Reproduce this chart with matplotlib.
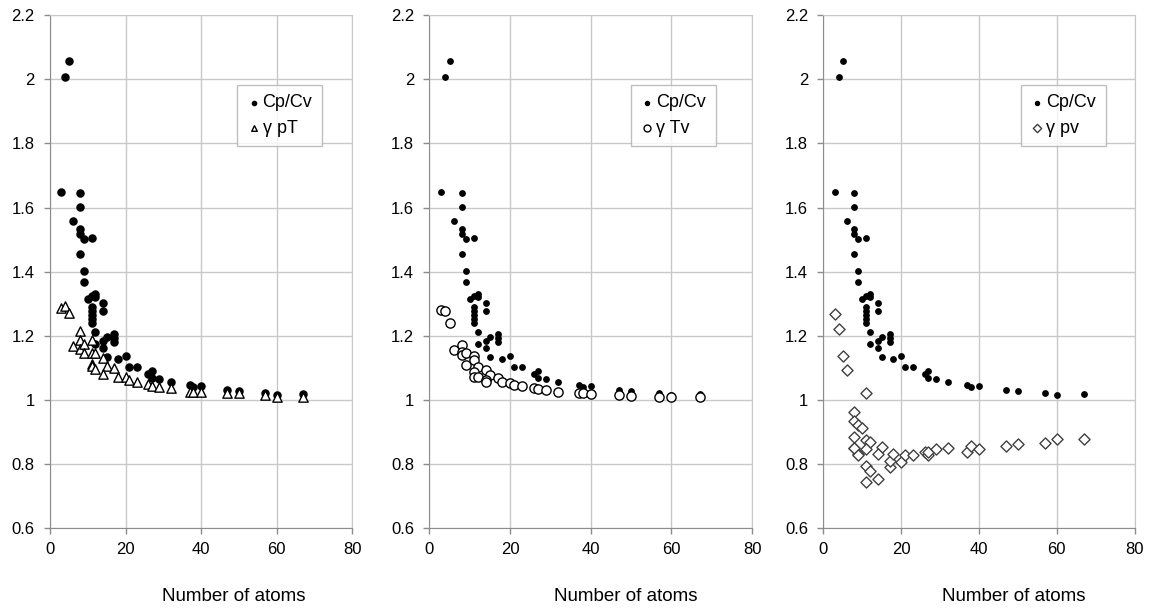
import numpy as np
import matplotlib.pyplot as plt

plt.rcParams['font.family'] = ['Liberation Sans', 'DejaVu Sans']

# heat capacity ratio Cp/Cv against molecule size
atoms_cp = [3, 4, 5, 6, 8, 8, 8, 8, 8, 9, 9, 9, 11, 10, 11, 12, 12, 11, 11, 11,
            11, 11, 14, 14, 12, 12, 14, 14, 15, 17, 17, 17, 15, 18, 20, 21, 23,
            26, 27, 27, 29, 32, 37, 38, 40, 47, 50, 57, 60, 67]
cp_cv = [1.65, 2.006, 2.058, 1.558, 1.644, 1.603, 1.532, 1.517, 1.456, 1.502,
         1.401, 1.367, 1.506, 1.314, 1.325, 1.33, 1.32, 1.29, 1.278, 1.265,
         1.251, 1.239, 1.301, 1.276, 1.212, 1.175, 1.182, 1.162, 1.197, 1.205,
         1.194, 1.181, 1.134, 1.128, 1.136, 1.101, 1.103, 1.082, 1.089, 1.067,
         1.064, 1.056, 1.045, 1.041, 1.044, 1.032, 1.029, 1.022, 1.016, 1.018]

# gamma from (p, T)
atoms_pt = [3, 4, 5, 6, 8, 8, 8, 9, 9, 11, 11, 12, 11, 11, 12, 14, 15, 14, 17,
            18, 20, 21, 23, 26, 27, 29, 32, 37, 38, 40, 47, 50, 57, 60, 67]
gamma_pt = [1.286, 1.293, 1.27, 1.169, 1.215, 1.188, 1.16, 1.174, 1.145, 1.188,
            1.145, 1.145, 1.112, 1.105, 1.095, 1.129, 1.104, 1.08, 1.098, 1.072,
            1.072, 1.061, 1.056, 1.048, 1.042, 1.039, 1.036, 1.025, 1.025, 1.025,
            1.02, 1.02, 1.015, 1.01, 1.01]

# gamma from (T, v)
atoms_tv = [3, 4, 5, 6, 8, 8, 8, 9, 9, 11, 11, 12, 11, 11, 12, 14, 15, 14, 14,
            17, 18, 20, 21, 23, 26, 27, 29, 32, 37, 38, 40, 47, 50, 57, 60, 67]
gamma_tv = [1.28, 1.276, 1.241, 1.155, 1.171, 1.15, 1.14, 1.145, 1.108, 1.138,
            1.123, 1.103, 1.087, 1.07, 1.072, 1.092, 1.077, 1.062, 1.056, 1.068,
            1.056, 1.051, 1.045, 1.044, 1.036, 1.034, 1.031, 1.025, 1.02, 1.02,
            1.019, 1.015, 1.013, 1.01, 1.01, 1.01]

# gamma from (p, v)
atoms_pv = [3, 4, 5, 6, 11, 8, 8, 9, 10, 8, 11, 12, 8, 9, 8, 9, 11, 11, 12, 11,
            14, 15, 14, 17, 17, 18, 20, 21, 23, 26, 27, 27, 29, 32, 37, 38, 40,
            47, 50, 57, 60, 67]
gamma_pv = [1.267, 1.222, 1.137, 1.092, 1.022, 0.963, 0.934, 0.92, 0.913, 0.884,
            0.876, 0.869, 0.85, 0.83, 0.85, 0.827, 0.848, 0.793, 0.778, 0.742,
            0.752, 0.853, 0.83, 0.79, 0.81, 0.832, 0.806, 0.828, 0.828, 0.838,
            0.828, 0.838, 0.845, 0.851, 0.838, 0.855, 0.848, 0.855, 0.862, 0.865,
            0.878, 0.879]


def setup_axes(ax):
    ax.set_xlim(0, 80)
    ax.set_ylim(0.6, 2.2)
    ax.set_xticks([0, 20, 40, 60, 80])
    ax.set_yticks([0.6, 0.8, 1.0, 1.2, 1.4, 1.6, 1.8, 2.0, 2.2])
    ax.set_yticklabels(['0.6', '0.8', '1', '1.2', '1.4', '1.6', '1.8', '2', '2.2'])
    ax.grid(True, color='#c8c8c8', linewidth=1.0)
    ax.set_axisbelow(True)
    for side in ['top', 'right']:
        ax.spines[side].set_color('#c8c8c8')
    for side in ['left', 'bottom']:
        ax.spines[side].set_color('#8c8c8c')
    ax.tick_params(colors='#8c8c8c', labelcolor='black', labelsize=12,
                   length=4, width=1)
    ax.tick_params(axis='x', pad=6)
    ax.tick_params(axis='y', pad=7)
    ax.set_xlabel('Number of atoms', fontsize=13.5)
    ax.xaxis.set_label_coords(0.61, -0.118)


def add_legend(ax, x0, scale):
    leg = ax.legend(loc='upper left', bbox_to_anchor=(x0, 0.865), fontsize=13,
                    frameon=True, fancybox=False, edgecolor='#b0b0b0',
                    handlelength=0.7, handletextpad=0.15, markerscale=scale,
                    labelspacing=0.45, borderpad=0.55, borderaxespad=0)
    leg.get_frame().set_linewidth(1.0)


fig = plt.figure(figsize=(11.52, 6.12), dpi=100)

# Figure panel 1: Cp/Cv vs gamma pT
ax1 = fig.add_axes([0.0434, 0.1373, 0.2622, 0.8377])
setup_axes(ax1)
ax1.scatter(atoms_cp, cp_cv, s=26, color='black', label='Cp/Cv', zorder=3)
ax1.scatter(atoms_pt, gamma_pt, s=45, marker='^', facecolor='white',
            edgecolor='black', linewidths=1.0, label='γ pT', zorder=4)
add_legend(ax1, 0.62, 0.6)

# Figure panel 2: Cp/Cv vs gamma Tv
ax2 = fig.add_axes([0.3727, 0.1373, 0.2801, 0.8377])
setup_axes(ax2)
ax2.scatter(atoms_cp, cp_cv, s=15, color='black', label='Cp/Cv', zorder=3)
ax2.scatter(atoms_tv, gamma_tv, s=44, marker='o', facecolor='white',
            edgecolor='black', linewidths=1.0, label='γ Tv', zorder=4)
add_legend(ax2, 0.625, 0.75)

# Figure panel 3: Cp/Cv vs gamma pv
ax3 = fig.add_axes([0.7147, 0.1373, 0.2703, 0.8377])
setup_axes(ax3)
ax3.scatter(atoms_cp, cp_cv, s=15, color='black', label='Cp/Cv', zorder=3)
ax3.scatter(atoms_pv, gamma_pv, s=32, marker='D', facecolor='white',
            edgecolor='#404040', linewidths=1.0, label='γ pv', zorder=4)
add_legend(ax3, 0.635, 0.75)

plt.savefig('out.png', dpi=100)
